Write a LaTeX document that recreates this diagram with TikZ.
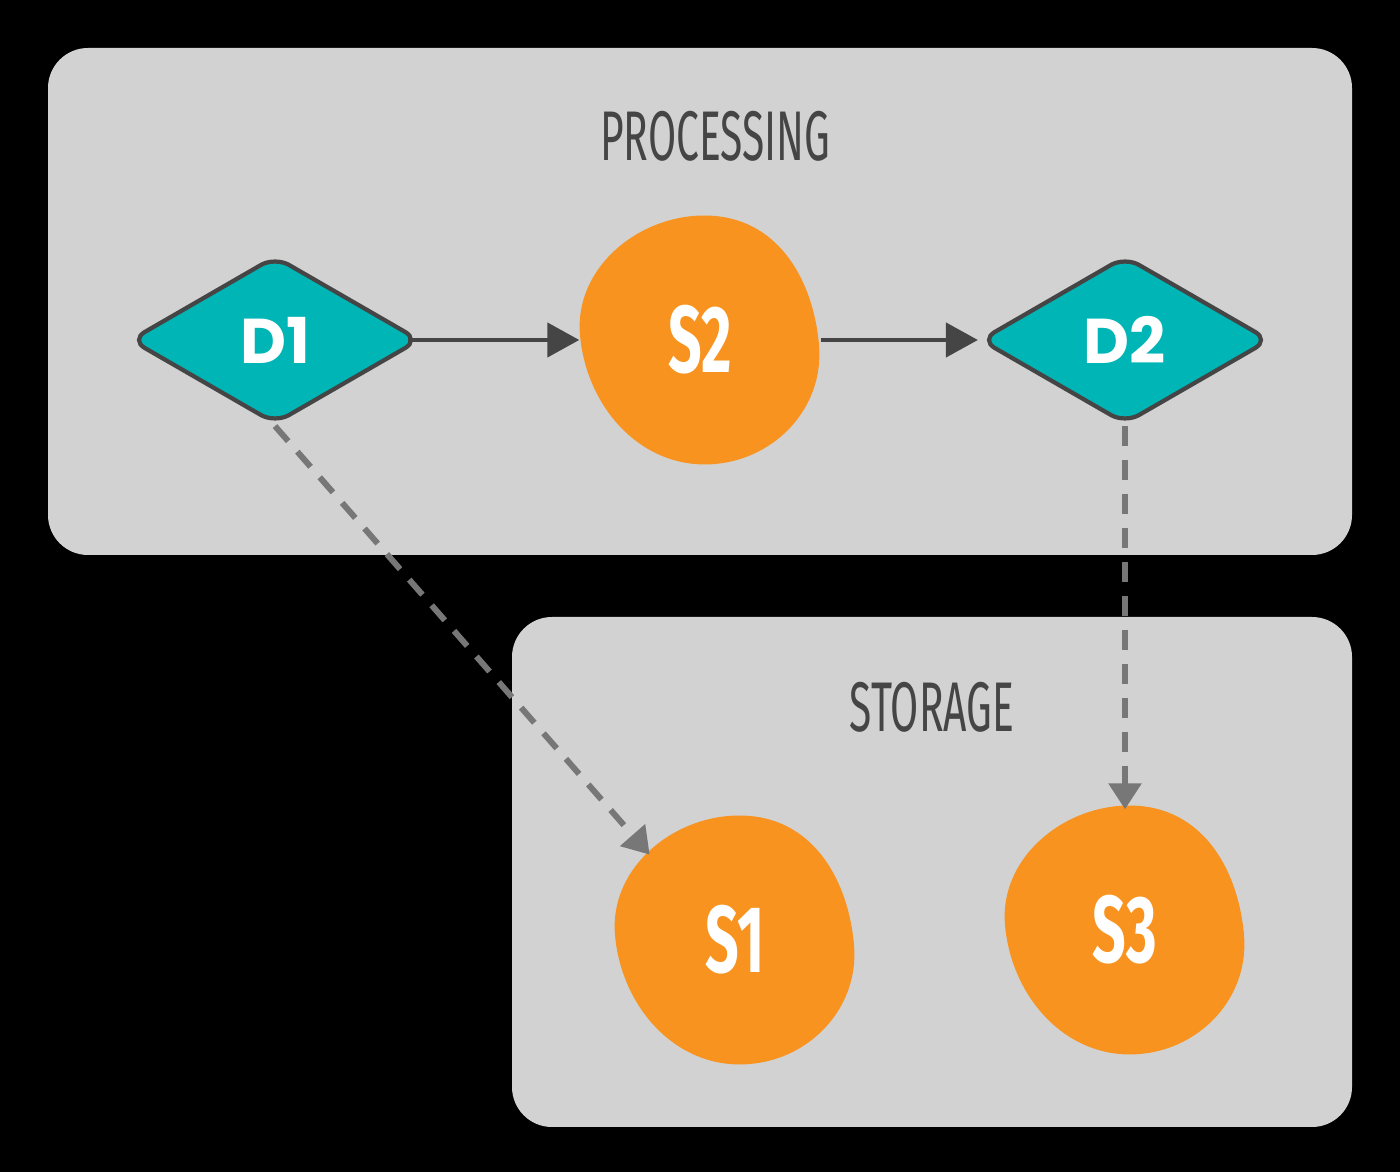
\documentclass[tikz,border=0pt]{standalone}
\usepackage{fontspec}
\setmainfont{Poppins}
\newfontfamily\runefont{Fira Sans}
\usepackage{tikz}
\usetikzlibrary{positioning}
\usetikzlibrary{shapes.geometric}
\usetikzlibrary{arrows.meta}
\usepackage{xcolor}

\definecolor{boxgrey}{HTML}{D2D2D2}
\definecolor{tealfill}{HTML}{00B5B5}
\definecolor{blobfill}{HTML}{F7931E}
\definecolor{darkline}{HTML}{454545}
\definecolor{dashgrey}{HTML}{777777}

% one egg shaped blob round a centre
\newcommand{\blob}[1]{\fill[blobfill, shift={(#1)}] (0.15,1.24) to[out=-5, in=95] (1.19,-0.05)
  to[out=-85, in=5] (0.15,-1.24) to[out=185, in=-85] (-1.20,0.05) to[out=95, in=175] cycle;}

\tikzset{
  groupbox/.style={fill=boxgrey, rounded corners=0.4cm},
  grouptitle/.style={text=darkline, font=\runefont\fontsize{20}{24}\selectfont, xscale=0.58},
  decision/.style={diamond, draw=darkline, line width=1.2pt, fill=tealfill, text=white,
    minimum width=2.9cm, minimum height=1.68cm, inner sep=0pt, rounded corners=0.16cm,
    font=\bfseries\fontsize{18}{22}\selectfont},
  slabel/.style={circle, minimum size=2.4cm, inner sep=0pt, text=white,
    font=\runefont\bfseries\fontsize{27}{30}\selectfont},
  flow/.style={-{Triangle[length=0.32cm, width=0.34cm]}, draw=darkline, line width=1.3pt},
  store/.style={-{Triangle[length=0.26cm, width=0.32cm]}, draw=dashgrey, line width=1.7pt,
    dash pattern=on 0.2cm off 0.14cm}
}

\begin{document}
\begin{tikzpicture}
            % black page
            \fill[black] (0,0) rectangle (14,11.72);
            \useasboundingbox (0,0) rectangle (14,11.72);

            % group boxes
            \fill[groupbox] (0.48,6.17) rectangle (13.52,11.24);
            \fill[groupbox] (5.12,0.45) rectangle (13.52,5.55);
            \node[grouptitle] (proctitle) at (7.15,10.36) {PROCESSING};
            \node[grouptitle] (stortitle) at (9.32,4.65) {STORAGE};

            % centres of the blobs
            \coordinate (cS2) at (7.00,8.32);
            \coordinate (cS1) at (7.35,2.32);
            \coordinate (cS3) at (11.25,2.42);
            \blob{cS2}
            \blob{cS1}
            \blob{cS3}

            % nodes
            \node[decision] (d1) at (2.75,8.32) {D1};
            \node[decision] (d2) at (11.25,8.32) {D2};
            \node[slabel] (s2) at (cS2) {\scalebox{0.62}[1]{S2}};
            \node[slabel] (s1) at (cS1) {\scalebox{0.62}[1]{S1}};
            \node[slabel] (s3) at (cS3) {\scalebox{0.62}[1]{S3}};

            % processing flow
            \draw[flow, shorten <=-4pt] (d1) -- (s2);
            \draw[flow] (s2) -- (d2);

            % into storage
            \draw[store] (d1.south) -- (s1.north west);
            \draw[store] (d2.south) -- (s3);
        \end{tikzpicture}
\end{document}
